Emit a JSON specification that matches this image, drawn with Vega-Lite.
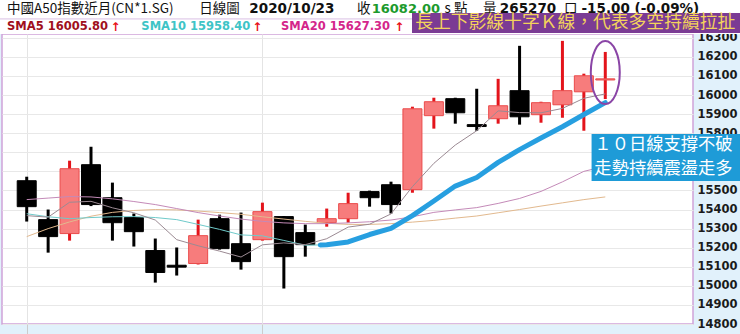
{
"$schema":"https://vega.github.io/schema/vega-lite/v6.json",
"width":691,"height":290,
"autosize":{"type":"none"},
"padding":{"left":2,"top":34,"right":47,"bottom":10},
"background":"#e1f1fb",
"config":{"view":{"fill":"#ffffff","stroke":"#cfa3d9","strokeWidth":1.5},"axis":{"labelOverlap":false,"labelFlush":false,"labelBound":false},"axisY":{"tickCount":16,"labelOverlap":false}},
"datasets":{
"k":[
{"i":1,"o":15551,"h":15572,"l":15337,"c":15415,"m5":15368,"m10":15378,"m20":15452,"m60":15258},
{"i":2,"o":15347,"h":15400,"l":15174,"c":15258,"m5":15360,"m10":15362,"m20":15460,"m60":15300},
{"i":3,"o":15274,"h":15656,"l":15237,"c":15614,"m5":15438,"m10":15352,"m20":15468,"m60":15335},
{"i":4,"o":15635,"h":15729,"l":15418,"c":15426,"m5":15443,"m10":15358,"m20":15466,"m60":15365},
{"i":5,"o":15462,"h":15541,"l":15237,"c":15331,"m5":15409,"m10":15362,"m20":15456,"m60":15385},
{"i":6,"o":15358,"h":15379,"l":15206,"c":15284,"m5":15383,"m10":15363,"m20":15442,"m60":15395},
{"i":7,"o":15185,"h":15248,"l":15017,"c":15070,"m5":15345,"m10":15358,"m20":15426,"m60":15400},
{"i":8,"o":15108,"h":15201,"l":15054,"c":15098,"m5":15242,"m10":15347,"m20":15405,"m60":15398},
{"i":9,"o":15117,"h":15347,"l":15112,"c":15263,"m5":15210,"m10":15322,"m20":15384,"m60":15392},
{"i":10,"o":15352,"h":15373,"l":15190,"c":15195,"m5":15182,"m10":15296,"m20":15366,"m60":15384},
{"i":11,"o":15221,"h":15384,"l":15085,"c":15127,"m5":15151,"m10":15267,"m20":15350,"m60":15375},
{"i":12,"o":15242,"h":15436,"l":15237,"c":15389,"m5":15215,"m10":15262,"m20":15338,"m60":15362},
{"i":13,"o":15363,"h":15366,"l":14986,"c":15153,"m5":15225,"m10":15238,"m20":15330,"m60":15350},
{"i":14,"o":15279,"h":15321,"l":15153,"c":15216,"m5":15216,"m10":15213,"m20":15326,"m60":15338},
{"i":15,"o":15331,"h":15405,"l":15310,"c":15352,"m5":15247,"m10":15215,"m20":15326,"m60":15328},
{"i":16,"o":15352,"h":15488,"l":15331,"c":15431,"m5":15308,"m10":15230,"m20":15330,"m60":15322},
{"i":17,"o":15494,"h":15499,"l":15415,"c":15462,"m5":15323,"m10":15269,"m20":15336,"m60":15322},
{"i":18,"o":15530,"h":15546,"l":15379,"c":15426,"m5":15377,"m10":15301,"m20":15345,"m60":15326},
{"i":19,"o":15504,"h":15939,"l":15488,"c":15928,"m5":15520,"m10":15368,"m20":15362,"m60":15334},
{"i":20,"o":15892,"h":15986,"l":15824,"c":15965,"m5":15642,"m10":15445,"m20":15385,"m60":15343},
{"i":21,"o":15981,"h":15986,"l":15850,"c":15907,"m5":15738,"m10":15523,"m20":15398,"m60":15355},
{"i":22,"o":15845,"h":16033,"l":15813,"c":15835,"m5":15813,"m10":15568,"m20":15410,"m60":15366},
{"i":23,"o":15876,"h":16085,"l":15850,"c":15944,"m5":15917,"m10":15647,"m20":15432,"m60":15383},
{"i":24,"o":16023,"h":16258,"l":15845,"c":15886,"m5":15908,"m10":15714,"m20":15458,"m60":15400},
{"i":25,"o":15897,"h":15965,"l":15855,"c":15960,"m5":15907,"m10":15775,"m20":15495,"m60":15418},
{"i":26,"o":15949,"h":16284,"l":15881,"c":16023,"m5":15930,"m10":15834,"m20":15545,"m60":15435},
{"i":27,"o":16017,"h":16112,"l":15813,"c":16101,"m5":15983,"m10":15898,"m20":15600,"m60":15452},
{"i":28,"o":16079,"h":16226,"l":15979,"c":16085,"m5":16006,"m10":15958,"m20":15627,"m60":15466}
],
"hl":[
{"i":14.7,"v":15214},{"i":15,"v":15215},{"i":16,"v":15230},{"i":17,"v":15269},{"i":18,"v":15301},{"i":19,"v":15368},{"i":20,"v":15445},{"i":21,"v":15523},{"i":22,"v":15568},{"i":23,"v":15647},{"i":24,"v":15714},{"i":25,"v":15775},{"i":26,"v":15834},{"i":27,"v":15898},{"i":28,"v":15960}
],
"oval":[{"i":28,"v":16118}],
"box":[
{"k":"hdr","x1":-0.3,"x2":34.3,"y1":16320,"y2":16540},
{"k":"pur","x1":18.98,"x2":34.3,"y1":16325,"y2":16430},
{"k":"blu","x1":27.36,"x2":34.3,"y1":15550,"y2":15796}
],
"sep":[{"x1":-0.3,"x2":34.3,"y1":16399}],
"txt":[
{"k":"n","t":"中國A50指數近月(CN*1.SG)","i":0.08,"v":16452},
{"k":"n","t":"日線圖","i":9.05,"v":16452},
{"k":"b","t":"2020/10/23","i":11.39,"v":16452},
{"k":"n","t":"收","i":16.41,"v":16452},
{"k":"g","t":"16082.00","i":17.1,"v":16452},
{"k":"n","t":"s 點","i":20.5,"v":16452},
{"k":"n","t":"量","i":22.29,"v":16452},
{"k":"b","t":"265270","i":23.08,"v":16452},
{"k":"n","t":"口","i":26.07,"v":16452},
{"k":"b","t":"-15.00 (-0.09%)","i":26.89,"v":16452},
{"k":"s5","t":"SMA5 16005.80","i":0.08,"v":16357},
{"k":"ar","t":"↑","i":4.91,"v":16357},
{"k":"s10","t":"SMA10 15958.40","i":6.35,"v":16357},
{"k":"ar","t":"↑","i":11.53,"v":16357},
{"k":"s20","t":"SMA20 15627.30","i":12.87,"v":16357},
{"k":"ar","t":"↑","i":18.15,"v":16357},
{"k":"p","t":"長上下影線十字Ｋ線，代表多空持續拉扯","i":19.13,"v":16377},
{"k":"w","t":"１０日線支撐不破","i":27.49,"v":15738},
{"k":"w","t":"走勢持續震盪走多","i":27.49,"v":15612}
]
},
"layer":[
{"data":{"name":"k"},
 "mark":{"type":"rule","strokeWidth":3},
 "encoding":{
 "x":{"field":"i","type":"quantitative","scale":{"domain":[0.08,31.86],"nice":false,"zero":false},
   "axis":{"values":[1,12],"grid":true,"gridColor":"#e4e4e4","labels":false,"ticks":true,"tickSize":10,"tickColor":"#cccccc","domain":false,"title":null}},
 "y":{"field":"l","type":"quantitative","scale":{"domain":[14800,16320],"nice":false,"zero":false},
   "axis":{"orient":"right","values":[14800,14900,15000,15100,15200,15300,15400,15500,15600,15700,15800,15900,16000,16100,16200,16300],"tickCount":16,"format":"d",
   "grid":true,"gridColor":"#e8e8e8","ticks":false,"domain":false,"title":null,"labelFont":"DejaVu Sans","labelFontWeight":"bold","labelFontSize":11.5,
   "labelColor":"#1b1b1b","labelPadding":4,"labelAlign":"left","labelBaseline":"middle","labelFlush":false,"labelOverlap":false,"labelBound":false}},
 "y2":{"field":"h"},
 "color":{"condition":{"test":"datum.c >= datum.o","value":"#e3141b"},"value":"#000000"}}},
{"data":{"name":"box"},"transform":[{"filter":"datum.k==='hdr'"}],
 "mark":{"type":"rect","fill":"#ffffff"},
 "encoding":{"x":{"field":"x1","type":"quantitative","scale":{"domain":[0.08,31.86],"nice":false,"zero":false}},"x2":{"field":"x2"},
 "y":{"field":"y1","type":"quantitative","scale":{"domain":[14800,16320],"nice":false,"zero":false}},"y2":{"field":"y2"}}},
{"data":{"name":"sep"},
 "mark":{"type":"rule","stroke":"#d9bfe4","strokeWidth":1},
 "encoding":{"x":{"field":"x1","type":"quantitative","scale":{"domain":[0.08,31.86],"nice":false,"zero":false}},"x2":{"field":"x2"},
 "y":{"field":"y1","type":"quantitative","scale":{"domain":[14800,16320],"nice":false,"zero":false}}}},
{"data":{"name":"k"},
 "mark":{"type":"bar","size":19,"strokeWidth":1},
 "encoding":{
 "x":{"field":"i","type":"quantitative","scale":{"domain":[0.08,31.86],"nice":false,"zero":false}},
 "y":{"field":"o","type":"quantitative","scale":{"domain":[14800,16320],"nice":false,"zero":false}},
 "y2":{"field":"c"},
 "fill":{"condition":{"test":"datum.c >= datum.o","value":"#f77c7c"},"value":"#000000"},
 "stroke":{"condition":{"test":"datum.c >= datum.o","value":"#ea4b4b"},"value":"#000000"}}},
{"data":{"name":"k"},
 "mark":{"type":"line","stroke":"#e2b98e","strokeWidth":1},
 "encoding":{"x":{"field":"i","type":"quantitative","scale":{"domain":[0.08,31.86],"nice":false,"zero":false}},
 "y":{"field":"m60","type":"quantitative","scale":{"domain":[14800,16320],"nice":false,"zero":false}}}},
{"data":{"name":"k"},
 "mark":{"type":"line","stroke":"#c48ab8","strokeWidth":1},
 "encoding":{"x":{"field":"i","type":"quantitative","scale":{"domain":[0.08,31.86],"nice":false,"zero":false}},
 "y":{"field":"m20","type":"quantitative","scale":{"domain":[14800,16320],"nice":false,"zero":false}}}},
{"data":{"name":"k"},
 "mark":{"type":"line","stroke":"#6fcaca","strokeWidth":1},
 "encoding":{"x":{"field":"i","type":"quantitative","scale":{"domain":[0.08,31.86],"nice":false,"zero":false}},
 "y":{"field":"m10","type":"quantitative","scale":{"domain":[14800,16320],"nice":false,"zero":false}}}},
{"data":{"name":"k"},
 "mark":{"type":"line","stroke":"#9b8a93","strokeWidth":1},
 "encoding":{"x":{"field":"i","type":"quantitative","scale":{"domain":[0.08,31.86],"nice":false,"zero":false}},
 "y":{"field":"m5","type":"quantitative","scale":{"domain":[14800,16320],"nice":false,"zero":false}}}},
{"data":{"name":"hl"},
 "mark":{"type":"line","stroke":"#279fe0","strokeWidth":5,"strokeCap":"round","strokeJoin":"round"},
 "encoding":{"x":{"field":"i","type":"quantitative","scale":{"domain":[0.08,31.86],"nice":false,"zero":false}},
 "y":{"field":"v","type":"quantitative","scale":{"domain":[14800,16320],"nice":false,"zero":false}}}},
{"data":{"name":"oval"},
 "mark":{"type":"point","shape":"M-0.46,0A0.46,1,0,1,1,0.46,0A0.46,1,0,1,1,-0.46,0Z","size":3969,"filled":false,"stroke":"#8a45a6","strokeWidth":2,"opacity":1},
 "encoding":{"x":{"field":"i","type":"quantitative","scale":{"domain":[0.08,31.86],"nice":false,"zero":false}},
 "y":{"field":"v","type":"quantitative","scale":{"domain":[14800,16320],"nice":false,"zero":false}}}},
{"data":{"name":"txt"},"transform":[{"filter":"datum.k==='n'"}],
 "mark":{"type":"text","align":"left","baseline":"middle","font":"Noto Sans CJK TC","fontSize":13.5,"color":"#111111"},
 "encoding":{"x":{"field":"i","type":"quantitative","scale":{"domain":[0.08,31.86],"nice":false,"zero":false}},
 "y":{"field":"v","type":"quantitative","scale":{"domain":[14800,16320],"nice":false,"zero":false}},"text":{"field":"t"}}},
{"data":{"name":"txt"},"transform":[{"filter":"datum.k==='b'"}],
 "mark":{"type":"text","align":"left","baseline":"middle","font":"DejaVu Sans","fontWeight":"bold","fontSize":13.5,"color":"#111111"},
 "encoding":{"x":{"field":"i","type":"quantitative","scale":{"domain":[0.08,31.86],"nice":false,"zero":false}},
 "y":{"field":"v","type":"quantitative","scale":{"domain":[14800,16320],"nice":false,"zero":false}},"text":{"field":"t"}}},
{"data":{"name":"txt"},"transform":[{"filter":"datum.k==='g'"}],
 "mark":{"type":"text","align":"left","baseline":"middle","font":"DejaVu Sans","fontWeight":"bold","fontSize":13,"color":"#1c9a2c"},
 "encoding":{"x":{"field":"i","type":"quantitative","scale":{"domain":[0.08,31.86],"nice":false,"zero":false}},
 "y":{"field":"v","type":"quantitative","scale":{"domain":[14800,16320],"nice":false,"zero":false}},"text":{"field":"t"}}},
{"data":{"name":"txt"},"transform":[{"filter":"datum.k==='s5'"}],
 "mark":{"type":"text","align":"left","baseline":"middle","font":"DejaVu Sans","fontWeight":"bold","fontSize":11.5,"color":"#a0101c"},
 "encoding":{"x":{"field":"i","type":"quantitative","scale":{"domain":[0.08,31.86],"nice":false,"zero":false}},
 "y":{"field":"v","type":"quantitative","scale":{"domain":[14800,16320],"nice":false,"zero":false}},"text":{"field":"t"}}},
{"data":{"name":"txt"},"transform":[{"filter":"datum.k==='s10'"}],
 "mark":{"type":"text","align":"left","baseline":"middle","font":"DejaVu Sans","fontWeight":"bold","fontSize":11.5,"color":"#3ec4c6"},
 "encoding":{"x":{"field":"i","type":"quantitative","scale":{"domain":[0.08,31.86],"nice":false,"zero":false}},
 "y":{"field":"v","type":"quantitative","scale":{"domain":[14800,16320],"nice":false,"zero":false}},"text":{"field":"t"}}},
{"data":{"name":"txt"},"transform":[{"filter":"datum.k==='s20'"}],
 "mark":{"type":"text","align":"left","baseline":"middle","font":"DejaVu Sans","fontWeight":"bold","fontSize":11.5,"color":"#d4268a"},
 "encoding":{"x":{"field":"i","type":"quantitative","scale":{"domain":[0.08,31.86],"nice":false,"zero":false}},
 "y":{"field":"v","type":"quantitative","scale":{"domain":[14800,16320],"nice":false,"zero":false}},"text":{"field":"t"}}},
{"data":{"name":"txt"},"transform":[{"filter":"datum.k==='ar'"}],
 "mark":{"type":"text","align":"left","baseline":"middle","font":"DejaVu Sans","fontWeight":"bold","fontSize":12,"color":"#e8101a"},
 "encoding":{"x":{"field":"i","type":"quantitative","scale":{"domain":[0.08,31.86],"nice":false,"zero":false}},
 "y":{"field":"v","type":"quantitative","scale":{"domain":[14800,16320],"nice":false,"zero":false}},"text":{"field":"t"}}},
{"data":{"name":"box"},"transform":[{"filter":"datum.k==='pur'"}],
 "mark":{"type":"rect","fill":"#7b3b94"},
 "encoding":{"x":{"field":"x1","type":"quantitative","scale":{"domain":[0.08,31.86],"nice":false,"zero":false}},"x2":{"field":"x2"},
 "y":{"field":"y1","type":"quantitative","scale":{"domain":[14800,16320],"nice":false,"zero":false}},"y2":{"field":"y2"}}},
{"data":{"name":"box"},"transform":[{"filter":"datum.k==='blu'"}],
 "mark":{"type":"rect","fill":"#1e9bd7"},
 "encoding":{"x":{"field":"x1","type":"quantitative","scale":{"domain":[0.08,31.86],"nice":false,"zero":false}},"x2":{"field":"x2"},
 "y":{"field":"y1","type":"quantitative","scale":{"domain":[14800,16320],"nice":false,"zero":false}},"y2":{"field":"y2"}}},
{"data":{"name":"txt"},"transform":[{"filter":"datum.k==='p'"}],
 "mark":{"type":"text","align":"left","baseline":"middle","font":"Noto Sans CJK TC","fontSize":17.8,"color":"#f3d35b"},
 "encoding":{"x":{"field":"i","type":"quantitative","scale":{"domain":[0.08,31.86],"nice":false,"zero":false}},
 "y":{"field":"v","type":"quantitative","scale":{"domain":[14800,16320],"nice":false,"zero":false}},"text":{"field":"t"}}},
{"data":{"name":"txt"},"transform":[{"filter":"datum.k==='w'"}],
 "mark":{"type":"text","align":"left","baseline":"middle","font":"Noto Sans CJK TC","fontSize":17.3,"color":"#ffffff"},
 "encoding":{"x":{"field":"i","type":"quantitative","scale":{"domain":[0.08,31.86],"nice":false,"zero":false}},
 "y":{"field":"v","type":"quantitative","scale":{"domain":[14800,16320],"nice":false,"zero":false}},"text":{"field":"t"}}}
]
}
